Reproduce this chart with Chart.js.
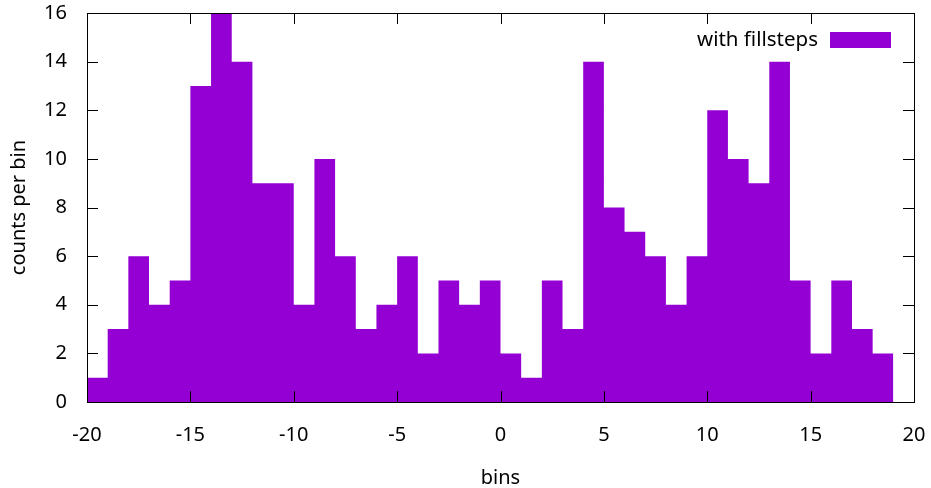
<!DOCTYPE html>
<html>
<head>
<meta charset="utf-8">
<script src="https://cdn.jsdelivr.net/npm/chart.js@4/dist/chart.umd.min.js"></script>
<style>
  html, body { margin: 0; padding: 0; background: #fff; }
  #wrap { width: 931px; height: 488px; }
</style>
</head>
<body>
<div id="wrap"><canvas id="histChart" width="931" height="488"></canvas></div>
<script>
// left edges of the unit bins, plus the right edge of the last one
const binEdges = [-20, -19, -18, -17, -16, -15, -14, -13, -12, -11, -10, -9, -8, -7, -6, -5, -4, -3, -2, -1,
  0, 1, 2, 3, 4, 5, 6, 7, 8, 9, 10, 11, 12, 13, 14, 15, 16, 17, 18, 19];
const counts = [1, 3, 6, 4, 5, 13, 16, 14, 9, 9, 4, 10, 6, 3, 4, 6, 2, 5, 4, 5,
  2, 1, 5, 3, 14, 8, 7, 6, 4, 6, 12, 10, 9, 14, 5, 2, 5, 3, 2];
const xTicks = [-20, -15, -10, -5, 0, 5, 10, 15, 20];
const yTicks = [0, 2, 4, 6, 8, 10, 12, 14, 16];
const seriesLabel = "with fillsteps";

const fillColor = "#9400d3";
const fontFamily = "'Noto Sans', 'DejaVu Sans', sans-serif";
const fontSize = 20;

const points = binEdges.map((x, i) => ({ x: x, y: counts[Math.min(i, counts.length - 1)] }));

// gnuplot-style frame with inward ticks and the key in the top right
const framePlugin = {
  id: "frame",
  afterDatasetsDraw(chart) {
    const { ctx, chartArea: a, scales } = chart;
    const tick = 11;
    ctx.save();
    ctx.strokeStyle = "#000";
    ctx.lineWidth = 1;
    ctx.beginPath();
    yTicks.forEach((v) => {
      const y = Math.round(scales.y.getPixelForValue(v)) + 0.5;
      ctx.moveTo(a.left, y); ctx.lineTo(a.left + tick, y);
      ctx.moveTo(a.right, y); ctx.lineTo(a.right - tick, y);
    });
    xTicks.forEach((v) => {
      const x = Math.round(scales.x.getPixelForValue(v)) + 0.5;
      ctx.moveTo(x, a.bottom); ctx.lineTo(x, a.bottom - tick);
      ctx.moveTo(x, a.top); ctx.lineTo(x, a.top + tick);
    });
    ctx.stroke();
    ctx.strokeRect(Math.round(a.left) + 0.5, Math.round(a.top) + 0.5,
      Math.round(a.right - a.left), Math.round(a.bottom - a.top));

    // key
    const boxW = 61, boxH = 16;
    const boxX = a.right - 84, boxY = 32;
    ctx.fillStyle = fillColor;
    ctx.fillRect(boxX, boxY, boxW, boxH);
    ctx.fillStyle = "#000";
    ctx.font = "20.5px " + fontFamily;
    ctx.textAlign = "right";
    ctx.textBaseline = "middle";
    ctx.fillText(seriesLabel, boxX - 12, boxY + boxH / 2);
    ctx.restore();
  },
};

new Chart(document.getElementById("histChart"), {
  type: "line",
  data: {
    datasets: [
      {
        label: seriesLabel,
        data: points,
        stepped: true,
        fill: "origin",
        backgroundColor: fillColor,
        borderColor: fillColor,
        borderWidth: 0,
        pointRadius: 0,
      },
    ],
  },
  options: {
    responsive: false,
    animation: false,
    events: [],
    layout: { padding: { top: 13, right: 17, left: 0, bottom: 0 } },
    plugins: { legend: { display: false }, tooltip: { enabled: false } },
    scales: {
      x: {
        type: "linear",
        min: -20,
        max: 20,
        afterFit: (s) => {
          s.height = 86;
          s.paddingLeft = 0; s.paddingRight = 0;
        },
        afterBuildTicks: (s) => { s.ticks = xTicks.map((v) => ({ value: v })); },
        grid: { display: false },
        border: { display: false },
        ticks: { color: "#000", padding: 13, maxRotation: 0, font: { family: fontFamily, size: fontSize } },
        title: {
          display: true,
          text: "bins",
          color: "#000",
          padding: { top: 0, bottom: -2 },
          font: { family: fontFamily, size: fontSize },
        },
      },
      y: {
        min: 0,
        max: 16,
        afterFit: (s) => {
          s.width = 87;
          s.paddingTop = 0; s.paddingBottom = 0;
        },
        afterBuildTicks: (s) => { s.ticks = yTicks.map((v) => ({ value: v })); },
        grid: { display: false },
        border: { display: false },
        ticks: { color: "#000", padding: 12, font: { family: fontFamily, size: fontSize } },
        title: {
          display: true,
          text: "counts per bin",
          color: "#000",
          padding: { top: 7, bottom: 0 },
          font: { family: fontFamily, size: fontSize },
        },
      },
    },
  },
  plugins: [framePlugin],
});
</script>
</body>
</html>
